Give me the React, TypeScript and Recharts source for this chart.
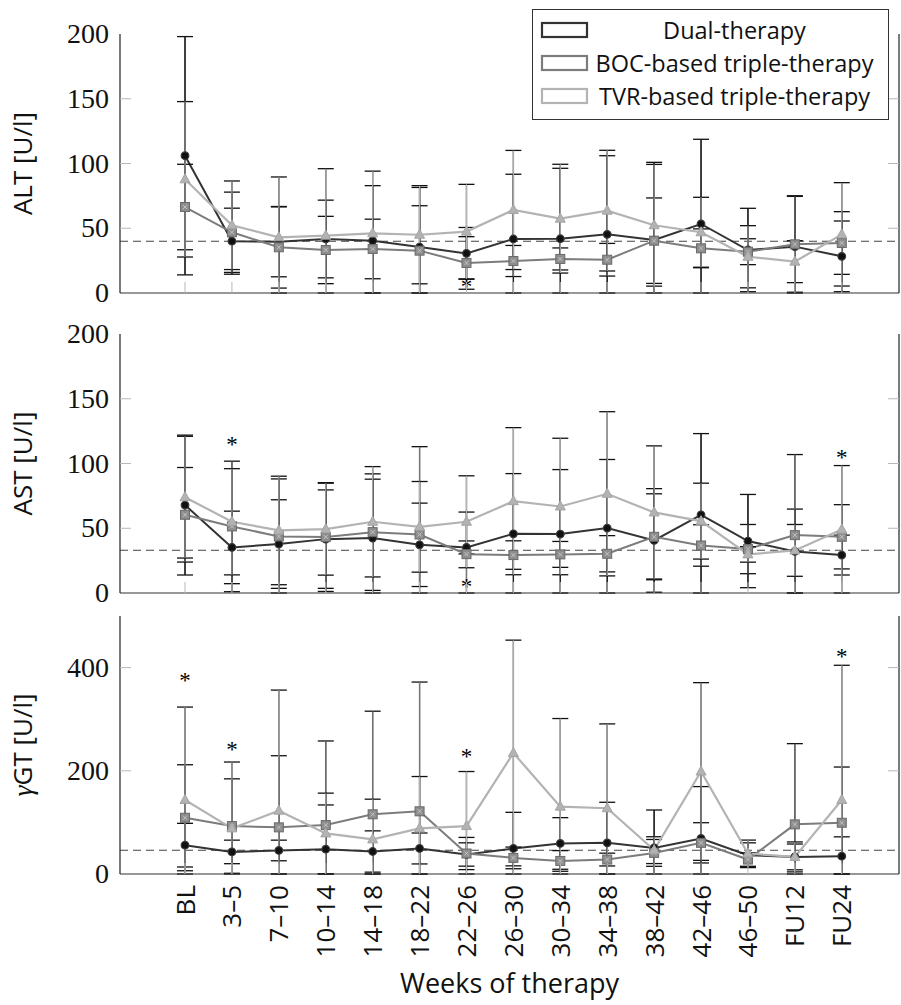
import React from 'react';
import { ComposedChart, Line, XAxis, YAxis, ErrorBar, ReferenceLine, Scatter, Legend } from 'recharts';

// ---------- data ----------
const categories = ['BL', '3–5', '7–10', '10–14', '14–18', '18–22', '22–26', '26–30', '30–34', '34–38', '38–42', '42–46', '46–50', 'FU12', 'FU24'];
const seriesNames = ['Dual-therapy', 'BOC-based triple-therapy', 'TVR-based triple-therapy'];

const altDual = [106, 40, 39.5, 41.7, 40.4, 35.5, 30.6, 41.7, 41.9, 45.3, 40.9, 53.3, 33.2, 35.8, 28.3];
const altDualSd = [92, 25.5, 27, 30, 42.5, 46, 20, 50, 54.4, 60.7, 60, 65.4, 32.2, 39.3, 27.3];
const altBoc = [66.4, 46.9, 35.3, 33.2, 34, 32.7, 23.2, 24.7, 26.3, 25.7, 40.4, 34.5, 31.9, 37.6, 38.6];
const altBocSd = [33, 31, 31.5, 26, 23, 34.7, 20.3, 12, 8.5, 12.6, 33, 15, 10, 37, 24.2];
const altTvr = [87.8, 52.3, 43, 44.3, 46.1, 45, 47.4, 64.1, 57.4, 63.6, 52.3, 46.9, 28, 24.2, 45.3];
const altTvrSd = [60, 34.2, 46.6, 51.7, 48, 37.9, 36.5, 46, 42, 46.6, 47, 27, 24, 16.2, 39.9];

const astDual = [67.9, 35.2, 37.8, 41.6, 42.4, 37.2, 35.2, 45.7, 45.5, 50.1, 40.6, 60.4, 40.1, 32.1, 29.3];
const astDualSd = [54, 28, 34.2, 38, 45.5, 32.2, 5, 46.5, 49.8, 53, 40, 62.7, 36, 32.7, 15.4];
const astBoc = [60.4, 51.4, 43.7, 43.2, 47, 45.2, 30, 29.3, 29.8, 30.3, 43.4, 36.7, 33.9, 44.7, 43.4];
const astBocSd = [36.5, 50.4, 44.4, 42, 45, 67.8, 32.5, 11, 10, 14, 33.2, 16, 19, 62.2, 24.8];
const astTvr = [74, 55, 48.3, 49.3, 55, 51.1, 55, 70.9, 66.8, 76.6, 62.2, 55.5, 29.8, 32.9, 49];
const astTvrSd = [47, 41, 41.9, 35.5, 42.6, 35, 35.5, 56.8, 52.7, 63.4, 51.4, 29.3, 6, 20, 49.4];

const ggtDual = [55.9, 42.8, 45.6, 48.1, 43.6, 49.5, 37.8, 49.5, 59.2, 60.4, 50.6, 68.9, 36.4, 33.1, 34.5];
const ggtDualSd = [42.3, 22.8, 20, 85.7, 40, 30, 22.6, 70, 50, 78.6, 73.4, 100.5, 24, 25, 37.5];
const ggtBoc = [109, 92.9, 90.4, 94.8, 115.7, 121.5, 39.7, 31.2, 25.3, 28, 40.9, 60.4, 28, 96.2, 99.3];
const ggtBocSd = [102.7, 91.5, 138.8, 163, 199.8, 250.5, 31.2, 21, 20, 12.4, 26, 39, 13, 156.4, 108];
const ggtTvr = [143.5, 88.4, 122.7, 78.7, 67, 88.4, 92.9, 234.5, 130.5, 127.4, 46.2, 198.6, 39.7, 33.1, 143.5];
const ggtTvrSd = [180, 128.6, 233.7, 78, 78, 100.5, 105.7, 218.7, 170.8, 163.5, 26, 172.2, 26, 29, 261];

const altRef = 40;
const astRef = 33;
const ggtRef = 46;

const altStars = [{ x: 6, y: 7.7 }];
const astStars = [{ x: 1, y: 117 }, { x: 6, y: 8 }, { x: 14, y: 107 }];
const ggtStars = [{ x: 0, y: 382 }, { x: 1, y: 249 }, { x: 6, y: 234 }, { x: 14, y: 429 }];

const altTicks = [0, 50, 100, 150, 200];
const astTicks = [0, 50, 100, 150, 200];
const ggtTicks = [0, 200, 400];

// ---------- styling ----------
const X_DOMAIN: [number, number] = [-1.386, 15.22];
const xTicks = categories.map((_, i) => i);
const C_DUAL = '#333333';
const C_BOC = '#7c7c7c';
const C_TVR = '#b3b3b3';
const TICK_GREY = '#b8b8b8';
const SERIF = 'Liberation Serif';
const SANS = 'Open Sans';

// error bars are cut at the x axis (the plot is clipped at 0)
const errPair = (mean: number, sd: number) => [Math.min(sd, mean), sd];

function buildRows(d: number[], ds: number[], b: number[], bs: number[], t: number[], ts: number[]) {
  return categories.map((c, i) => ({
    x: i, label: c,
    dual: d[i], dualErr: errPair(d[i], ds[i]),
    boc: b[i], bocErr: errPair(b[i], bs[i]),
    tvr: t[i], tvrErr: errPair(t[i], ts[i]),
  }));
}

const DualDot = (p: any) => {
  if (p.cx == null || p.cy == null) return <g key={p.key} />;
  return <circle key={p.key} cx={p.cx} cy={p.cy} r={3.8} fill="#111" stroke="#3a3a3a" strokeWidth={1.2} />;
};
const BocDot = (p: any) => {
  if (p.cx == null || p.cy == null) return <g key={p.key} />;
  const { cx, cy } = p;
  return (
    <g key={p.key}>
      <rect x={cx - 4.5} y={cy - 4.5} width={9} height={9} fill="#8e8e8e" stroke="#6a6a6a" strokeWidth={1} />
      <path d={`M${cx - 2} ${cy - 2}L${cx + 2} ${cy + 2}M${cx + 2} ${cy - 2}L${cx - 2} ${cy + 2}`} stroke="#cfcfcf" strokeWidth={0.8} />
    </g>
  );
};
const TvrDot = (p: any) => {
  if (p.cx == null || p.cy == null) return <g key={p.key} />;
  const { cx, cy } = p;
  return <polygon key={p.key} points={`${cx},${cy - 5.5} ${cx + 5},${cy + 3.5} ${cx - 5},${cy + 3.5}`} fill="#b3b3b3" stroke="#a5a5a5" strokeWidth={1} />;
};

const StarShape = (p: any) => {
  if (p.cx == null || p.cy == null) return <g />;
  return (
    <text x={p.cx} y={p.cy + 11} textAnchor="middle" fontFamily={SERIF} fontSize={23} fill="#000">*</text>
  );
};

const makeLeftTick = (max: number) => (p: any) => {
  const v = p.payload.value;
  return (
    <g>
      {v !== 0 && v !== max && <line x1={p.x} x2={p.x + 11} y1={p.y} y2={p.y} stroke={TICK_GREY} strokeWidth={1} />}
      <text x={p.x - 11} y={p.y + 9} textAnchor="end" fontFamily={SERIF} fontSize={28} fill="#111">{v}</text>
    </g>
  );
};
const makeRightTick = (max: number) => (p: any) => {
  const v = p.payload.value;
  if (v === 0 || v === max) return <g />;
  return <line x1={p.x - 11} x2={p.x} y1={p.y} y2={p.y} stroke={TICK_GREY} strokeWidth={1} />;
};
const TopTick = (p: any) => <line x1={p.x} x2={p.x} y1={p.y} y2={p.y + 11} stroke={TICK_GREY} strokeWidth={1} />;
const makeBottomTick = (showLabel: boolean) => (p: any) => (
  <g>
    <line x1={p.x} x2={p.x} y1={p.y - 11} y2={p.y} stroke={TICK_GREY} strokeWidth={1} />
    {showLabel && (
      <text transform={`translate(${p.x + 9.5},${p.y + 11}) rotate(-90)`} textAnchor="end" fontFamily={SANS} fontSize={26} fill="#111">
        {categories[p.payload.value]}
      </text>
    )}
  </g>
);

const LegendBox = (props: any) => {
  const given = props.payload || [];
  const entries = seriesNames.map((n) => given.find((e: any) => e.value === n)).filter(Boolean);
  return (
    <div style={{ width: 357, height: 111, boxSizing: 'border-box', border: '1.5px solid #333', background: '#fff', paddingTop: 4 }}>
      {entries.map((e: any) => (
        <div key={e.value} style={{ position: 'relative', height: 33 }}>
          <svg width={50} height={20} style={{ position: 'absolute', left: 7, top: 7 }}>
            <rect x={2} y={2} width={45} height={14} fill="none" stroke={e.color} strokeWidth={2.2} />
          </svg>
          <div style={{ position: 'absolute', left: 58, width: 287, top: 0, height: 33, lineHeight: '33px', textAlign: 'center', fontFamily: SANS, fontSize: 23.5, color: '#111', whiteSpace: 'nowrap' }}>
            {e.value}
          </div>
        </div>
      ))}
    </div>
  );
};

type PanelProps = {
  top: number; height: number; marginTop: number; xAxisHeight: number;
  rows: any[]; max: number; ticks: number[]; refY: number; stars: any[];
  title: string; titlePrefix?: string; showLabels: boolean;
};

function Panel(pp: PanelProps) {
  const { top, height, marginTop, xAxisHeight, rows, max, ticks, refY, stars, title, titlePrefix, showLabels } = pp;
  const titleContent = (p: any) => {
    const vb = p.viewBox || { y: marginTop, height: height - marginTop - xAxisHeight };
    const cy = vb.y + vb.height / 2;
    return (
      <text transform={`translate(32,${cy}) rotate(-90)`} textAnchor="middle" fontFamily={SANS} fontSize={26} fill="#111">
        {titlePrefix ? <tspan fontFamily={SERIF} fontStyle="italic" fontSize={28}>{titlePrefix}</tspan> : null}
        {title}
      </text>
    );
  };
  const xLabelContent = (p: any) => {
    const vb = p.viewBox;
    return (
      <text x={vb.x + vb.width / 2} y={vb.y + vb.height - 12} textAnchor="middle" fontFamily={SANS} fontSize={27} fill="#111">Weeks of therapy</text>
    );
  };
  return (
    <div style={{ position: 'absolute', left: 0, top, width: 901, height }}>
      <ComposedChart width={901} height={height} data={rows} margin={{ top: marginTop, right: 0, bottom: 0, left: 0 }}>
        <XAxis xAxisId="b" type="number" dataKey="x" domain={X_DOMAIN} ticks={xTicks} interval={0} allowDataOverflow
          orientation="bottom" height={xAxisHeight} axisLine={{ stroke: '#333', strokeWidth: 1.2 }} tickLine={false}
          tickSize={0} tickMargin={0} tick={makeBottomTick(showLabels)}
          label={showLabels ? { content: xLabelContent } : undefined} />
        <XAxis xAxisId="t" type="number" dataKey="x" domain={X_DOMAIN} ticks={xTicks} interval={0} allowDataOverflow
          orientation="top" height={0} axisLine={{ stroke: '#222', strokeWidth: 1.2 }} tickLine={false}
          tickSize={0} tickMargin={0} tick={TopTick} />
        <YAxis yAxisId="l" type="number" domain={[0, max]} ticks={ticks} interval={0} allowDataOverflow width={120}
          axisLine={{ stroke: '#222', strokeWidth: 1.2 }} tickLine={false} tickSize={0} tickMargin={0}
          tick={makeLeftTick(max)} label={{ content: titleContent }} />
        <YAxis yAxisId="r" orientation="right" type="number" domain={[0, max]} ticks={ticks} interval={0} allowDataOverflow width={2}
          axisLine={{ stroke: '#222', strokeWidth: 1.2 }} tickLine={false} tickSize={0} tickMargin={0}
          tick={makeRightTick(max)} />
        <ReferenceLine xAxisId="b" yAxisId="l" y={refY} stroke="#444" strokeWidth={1.1} strokeDasharray="8 5" />
        <Line xAxisId="b" yAxisId="l" name={seriesNames[0]} dataKey="dual" stroke={C_DUAL} strokeWidth={2} dot={DualDot} isAnimationActive={false}>
          <ErrorBar dataKey="dualErr" direction="y" width={8} stroke="#111" strokeWidth={1.3} />
          <ErrorBar dataKey="dualErr" direction="y" width={0} stroke="#222" strokeWidth={1.1} />
        </Line>
        <Line xAxisId="b" yAxisId="l" name={seriesNames[1]} dataKey="boc" stroke={C_BOC} strokeWidth={2} dot={BocDot} isAnimationActive={false}>
          <ErrorBar dataKey="bocErr" direction="y" width={8} stroke="#111" strokeWidth={1.3} />
          <ErrorBar dataKey="bocErr" direction="y" width={0} stroke="#7a7a7a" strokeWidth={1.1} />
        </Line>
        <Line xAxisId="b" yAxisId="l" name={seriesNames[2]} dataKey="tvr" stroke={C_TVR} strokeWidth={2.2} dot={TvrDot} isAnimationActive={false}>
          <ErrorBar dataKey="tvrErr" direction="y" width={8} stroke="#111" strokeWidth={1.3} />
          <ErrorBar dataKey="tvrErr" direction="y" width={0} stroke="#b5b5b5" strokeWidth={1.1} />
        </Line>
        <Scatter xAxisId="b" yAxisId="l" data={stars} dataKey="y" shape={StarShape} legendType="none" isAnimationActive={false} />
      </ComposedChart>
    </div>
  );
}

const altRows = buildRows(altDual, altDualSd, altBoc, altBocSd, altTvr, altTvrSd);
const astRows = buildRows(astDual, astDualSd, astBoc, astBocSd, astTvr, astTvrSd);
const ggtRows = buildRows(ggtDual, ggtDualSd, ggtBoc, ggtBocSd, ggtTvr, ggtTvrSd);

export default function App() {
  return (
    <div style={{ position: 'absolute', left: 0, top: 0, width: 901, height: 1005, background: '#fff', overflow: 'hidden' }}>
      <Panel top={600} height={405} marginTop={16} xAxisHeight={131} rows={ggtRows} max={500} ticks={ggtTicks}
        refY={ggtRef} stars={ggtStars} titlePrefix="γ" title="GT [U/l]" showLabels={true} />
      <Panel top={300} height={315} marginTop={34} xAxisHeight={22} rows={astRows} max={200} ticks={astTicks}
        refY={astRef} stars={astStars} title="AST [U/l]" showLabels={false} />
      <Panel top={0} height={315} marginTop={34} xAxisHeight={22} rows={altRows} max={200} ticks={altTicks}
        refY={altRef} stars={altStars} title="ALT [U/l]" showLabels={false} />
      <div style={{ position: 'absolute', left: 0, top: 0, width: 901, height: 300, pointerEvents: 'none' }}>
        <ComposedChart width={901} height={300} data={altRows} margin={{ top: 34, right: 0, bottom: 0, left: 0 }}>
          <XAxis type="number" dataKey="x" domain={X_DOMAIN} hide />
          <YAxis domain={[0, 200]} hide />
          <Line name={seriesNames[0]} dataKey="dual" stroke={C_DUAL} strokeOpacity={0} dot={false} legendType="rect" isAnimationActive={false} />
          <Line name={seriesNames[1]} dataKey="boc" stroke={C_BOC} strokeOpacity={0} dot={false} legendType="rect" isAnimationActive={false} />
          <Line name={seriesNames[2]} dataKey="tvr" stroke={C_TVR} strokeOpacity={0} dot={false} legendType="rect" isAnimationActive={false} />
          <Legend layout="vertical" align="center" verticalAlign="middle" content={LegendBox}
            wrapperStyle={{ position: 'absolute', top: 9, left: 532, width: 357, height: 111 }} />
        </ComposedChart>
      </div>
    </div>
  );
}
